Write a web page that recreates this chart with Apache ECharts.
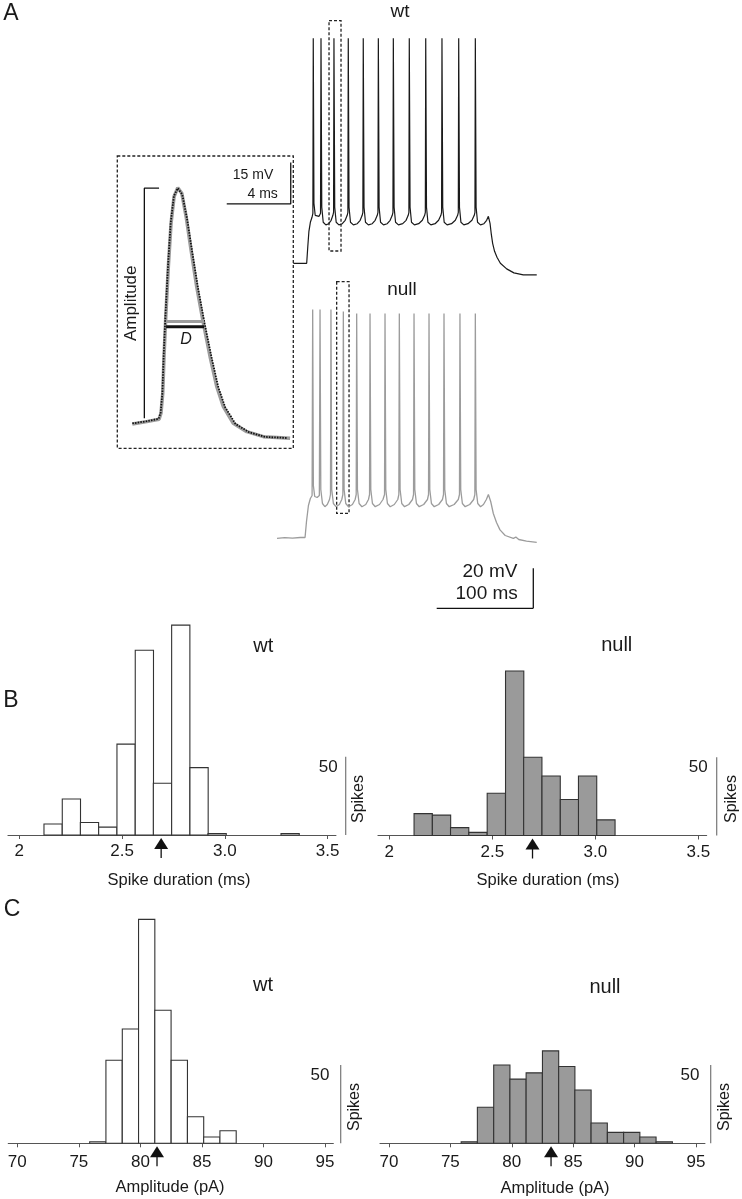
<!DOCTYPE html>
<html>
<head>
<meta charset="utf-8">
<script src="https://cdn.jsdelivr.net/npm/echarts@6/dist/echarts.min.js"></script>
<style>html,body{margin:0;padding:0;background:#fff}#c{width:742px;height:1199px}</style>
</head>
<body>
<div id="c"></div>
<script>
// ---------- DATA ----------
// Panel A: voltage traces, [time ms, membrane potential mV]
const wtTrace = [
[16.9,-70],[30.7,-70],[31.8,-62],[33,-54],[34.5,-49.5],[36.2,-47],[37.1,-45],
[37.5,42.5],[38.2,-40],[39.5,-46],[41.5,-47],[43.5,-46.5],[45,-45],
[45.5,42.5],[46.3,-42],[47.8,-49.5],[50.5,-50.8],[53.5,-50.2],[56,-48.5],[57.8,-46],[58.5,-44.5],
[58.9,42.5],[59.7,-42],[61.2,-49.5],[64,-50.8],[67.5,-50.2],[70.5,-48.5],[72.6,-46],[73.3,-44.5],
[73.7,42.5],[74.5,-42],[76,-49.5],[79,-50.8],[83,-50.2],[86,-48.5],[88.1,-46],[88.8,-44.5],
[89.2,42.5],[90,-42],[91.5,-49.5],[94.5,-50.8],[98.5,-50.2],[101.5,-48.5],[103.7,-46],[104.4,-44.5],
[104.8,42.5],[105.6,-42],[107.1,-49.5],[110.1,-50.8],[114,-50.2],[117,-48.5],[119.2,-46],[119.9,-44.5],
[120.3,42.5],[121.1,-42],[122.6,-49.5],[125.6,-50.8],[130,-50.2],[133.5,-48.5],[135.7,-46],[136.4,-44.5],
[136.8,42.5],[137.6,-42],[139.1,-49.5],[142.1,-50.8],[146.5,-50.2],[150.3,-48.5],[152.7,-46],[153.4,-44.5],
[153.8,42.5],[154.6,-42],[156.1,-49.5],[159.1,-50.8],[163.5,-50.2],[167.1,-48.5],[169.5,-46],[170.2,-44.5],
[170.6,42.5],[171.4,-42],[172.9,-49.5],[175.9,-50.8],[180.5,-50.2],[184.4,-48.5],[186.8,-46],[187.5,-44.5],
[187.9,42.5],[188.7,-42],[190.2,-49.5],[193.2,-50.8],[197.5,-50.2],[201.6,-48.5],[204,-46],[204.7,-44.5],
[205.1,42.5],[205.9,-42],[207.4,-49.5],[210.4,-50.8],[214,-50.2],[216.8,-48.5],[218.6,-46.5],[219.3,-45.5],
[220.3,-50],[221.5,-55],[223,-60],[225,-64],[227.5,-67],[231,-70],[237.5,-72.8],[245,-74.8],[254.7,-75.8],[268.6,-75.8]
];
const nullTrace = [
[0,-70.4],[8,-70.1],[16,-70.3],[24,-70],[29,-70],[30.5,-62],[32.5,-54],[34.5,-50.5],[36.3,-49],
[36.9,44],[37.6,-44],[39,-49.5],[41.5,-50],[43.8,-49],
[44.5,44],[45.3,-46],[47,-53],[49.5,-54.6],[52,-53.5],[54.3,-51],[55.3,-48.5],
[55.8,44],[56.6,-46],[58.3,-53],[61,-54.6],[64.5,-53.5],[67,-51],[68.1,-48.5],
[68.6,43],[69.4,-46],[71.1,-53],[74,-54.6],[78,-53.5],[80.8,-51],[81.9,-48.5],
[82.4,42],[83.2,-46],[84.9,-53],[87.8,-54.6],[91.8,-53.5],[94.6,-51],[95.7,-48.5],
[96.2,42],[97,-46],[98.7,-53],[101.6,-54.6],[106,-53.5],[109.6,-51],[111.2,-48.5],
[111.7,42],[112.5,-46],[114.2,-53],[117.1,-54.6],[121.3,-53.5],[124.9,-51],[126,-48.5],
[126.5,42],[127.3,-46],[129,-53],[131.9,-54.6],[136.3,-53.5],[140.1,-51],[141.2,-48.5],
[141.7,42],[142.5,-46],[144.2,-53],[147.1,-54.6],[151.7,-53.5],[155.6,-51],[156.7,-48.5],
[157.2,42],[158,-46],[159.7,-53],[162.6,-54.6],[167.2,-53.5],[171.1,-51],[172.2,-48.5],
[172.7,42],[173.5,-46],[175.2,-53],[178.1,-54.6],[183.2,-53.5],[187.5,-51],[188.7,-48.5],
[189.2,42],[190,-46],[191.7,-53],[194.6,-54.6],[199.3,-53.5],[203.4,-51],[204.6,-48.5],
[205.1,42],[205.9,-46],[207.6,-53],[210.5,-54.6],[213.5,-53.5],[216.5,-51],[218.6,-48.5],[219.5,-47.9],
[221,-52],[223.7,-58],[227,-62.5],[230.6,-66.2],[236,-69],[244.4,-70.4],[247,-69.8],[250,-71],[258,-71.8],[268.6,-72.4]
];
// dashed selection boxes [t0, t1, vTop, vBottom]
const wtBox = [53.8, 66.2, 51.3, -63.85];
const nullBox = [61.7, 74.5, 57.9, -57.9];

// Inset: single spike, [time ms, mV above baseline]
const insetNull = [[0,0],[0.9,0.85],[1.67,1.7],[1.79,3.9],[1.9,11.1],[1.98,24.4],[2.09,39],[2.25,57.1],[2.42,72.9],[2.61,82.6],[2.84,85.8],[3.09,83.8],[3.36,75.3],[3.67,63.2],[4.02,49.9],[4.44,36.6],[4.86,24.4],[5.28,13.5],[5.69,6.3],[6.31,0.25],[7.15,-2.8],[8.19,-4.6],[9.86,-5.2]];
const insetWt = [[0,0.2],[0.9,1],[1.65,1.9],[1.77,4.2],[1.88,11.5],[1.96,25],[2.07,39.5],[2.23,57.5],[2.4,73.2],[2.6,82.8],[2.84,85.6],[3.12,83.3],[3.42,74.5],[3.74,62.5],[4.1,49.5],[4.52,36.4],[4.95,24.2],[5.37,13.4],[5.8,6.1],[6.45,0],[7.3,-3],[8.3,-4.7],[9.7,-5.1]];
const insetDNull = [[2.11,37.2],[4.48,37.2]];
const insetDWt = [[2.11,35.3],[4.48,35.3]];
const ampBracket = [[1.67,85.6],[0.75,85.6],[0.75,2.07]];
const insetScale = [[5.9,79.9],[9.9,79.9],[9.9,94.9]];

// Panel B: spike duration histograms
const durBinLeft = [2.120, 2.209, 2.297, 2.386, 2.475, 2.564, 2.652, 2.741, 2.830, 2.918, 3.007, 3.096, 3.185, 3.273];
const durBinWidth = 0.0887;
const wtDurCounts   = [7, 23, 8, 5, 58, 118, 33, 134, 43, 1, 0, 0, 0, 1];
const nullDurCounts = [14, 13, 5, 2, 27, 105, 50, 38, 23, 38, 10, 0, 0, 0];
const durTicks = [2, 2.5, 3, 3.5];
const durTickLabels = ['2', '2.5', '3.0', '3.5'];
const wtDurMean = 2.69, nullDurMean = 2.695;

// Panel C: amplitude histograms
const ampBinLeft = [75.88, 77.20, 78.53, 79.85, 81.17, 82.50, 83.82, 85.14, 86.46, 87.79, 89.11, 90.43, 91.76];
const ampBinWidth = 1.323;
const wtAmpCounts   = [1, 53, 73, 143, 85, 53, 17, 4, 8, 0, 0, 0, 0];
const nullAmpCounts = [1, 23, 50, 41, 45, 59, 49, 34, 13, 7, 7, 4, 1];
const ampTicks = [70, 75, 80, 85, 90, 95];
const wtAmpMean = 81.35, nullAmpMean = 83.2;

// ---------- CHART ----------
const FONT = 'Liberation Sans, Arial, sans-serif';
const chart = echarts.init(document.getElementById('c'), null, {renderer: 'canvas'});

function bins(left, w, counts){
  return left.map((x0, i) => [x0, x0 + w, counts[i]]).filter(d => d[2] > 0);
}
function histSeries(idx, data, fill){
  return {type:'custom', xAxisIndex:idx, yAxisIndex:idx, data, encode:{x:[0,1], y:2}, clip:false, silent:true, z:3,
    renderItem(params, api){
      const a = api.coord([api.value(0), api.value(2)]);
      const b = api.coord([api.value(1), 0]);
      return {type:'rect', shape:{x:a[0], y:a[1], width:b[0]-a[0], height:b[1]-a[1]},
        style:{fill, stroke:'#333', lineWidth:1.1}};
    }};
}
function arrowSeries(idx, mean){
  return {type:'custom', xAxisIndex:idx, yAxisIndex:idx, data:[[mean, 0]], encode:{x:0, y:1}, clip:false, silent:true, z:4,
    renderItem(params, api){
      const p = api.coord([api.value(0), 0]);
      return {type:'group', children:[
        {type:'polygon', shape:{points:[[p[0], p[1]+3],[p[0]-7, p[1]+14],[p[0]+7, p[1]+14]]}, style:{fill:'#111'}},
        {type:'line', shape:{x1:p[0], y1:p[1]+13, x2:p[0], y2:p[1]+23}, style:{stroke:'#111', lineWidth:1.3}}
      ]};
    }};
}
function histX(idx, min, max, ticks, fmt, margin, fs){
  return {gridIndex:idx, type:'value', min, max,
    axisLine:{show:true, onZero:false, lineStyle:{color:'#555', width:1.2}},
    axisTick:{show:true, customValues:ticks, length:4, lineStyle:{color:'#555', width:1}},
    axisLabel:{show:true, customValues:ticks, formatter:fmt, fontSize:fs, color:'#1a1a1a', margin, fontFamily:FONT},
    splitLine:{show:false}};
}
function hiddenAxis(idx, min, max){
  return {gridIndex:idx, type:'value', min, max, show:false, splitLine:{show:false}};
}
function line(idx, data, color, width, type){
  return {type:'line', xAxisIndex:idx, yAxisIndex:idx, data, showSymbol:false, symbol:'none', silent:true,
    lineStyle:{color, width, type: type || 'solid'}, animation:false, z:2};
}
const durFmt = v => durTickLabels[durTicks.indexOf(v)] ?? String(v);
const ampFmt = v => String(v);

const HH = 150 * 1.566; // histogram grid height (0..150 spikes)

const option = {
  animation:false,
  backgroundColor:'#fff',
  grid:[
    {left:277, top:13.3, width:270.76, height:270, outerBoundsMode:'none'},      // 0 wt trace
    {left:277, top:277.5, width:270.76, height:280, outerBoundsMode:'none'},     // 1 null trace
    {left:117.3, top:156, width:176, height:292.3, outerBoundsMode:'none'},      // 2 inset
    {left:8, top:835-HH, width:327.9, height:HH, outerBoundsMode:'none'},        // 3 B wt
    {left:378, top:835.5-HH, width:328.6, height:HH, outerBoundsMode:'none'},    // 4 B null
    {left:8.3, top:1143.3-HH, width:325, height:HH, outerBoundsMode:'none'},     // 5 C wt
    {left:380, top:1143.3-HH, width:324.9, height:HH, outerBoundsMode:'none'}    // 6 C null
  ],
  xAxis:[
    hiddenAxis(0, 0, 280),
    hiddenAxis(1, 0, 280),
    hiddenAxis(2, -0.94, 10.06),
    histX(3, 1.945, 3.54, durTicks, durFmt, 8, 17),
    histX(4, 1.945, 3.54, durTicks, durFmt, 8, 17),
    histX(5, 69.27, 95.67, ampTicks, ampFmt, 11, 17),
    histX(6, 69.27, 95.73, ampTicks, ampFmt, 11, 17)
  ],
  yAxis:[
    hiddenAxis(0, -80, 55),
    hiddenAxis(1, -80, 60),
    hiddenAxis(2, -8.83, 97.3),
    hiddenAxis(3, 0, 150),
    hiddenAxis(4, 0, 150),
    hiddenAxis(5, 0, 150),
    hiddenAxis(6, 0, 150)
  ],
  series:[
    Object.assign(line(0, wtTrace, '#1a1a1a', 1.2), {
      markArea:{silent:true, itemStyle:{color:'rgba(0,0,0,0)', borderColor:'#222', borderWidth:1.3, borderType:[3,2]},
        data:[[{coord:[wtBox[0], wtBox[2]]},{coord:[wtBox[1], wtBox[3]]}]]}
    }),
    Object.assign(line(1, nullTrace, '#9c9c9c', 1.3), {
      markArea:{silent:true, itemStyle:{color:'rgba(0,0,0,0)', borderColor:'#222', borderWidth:1.3, borderType:[3,2]},
        data:[[{coord:[nullBox[0], nullBox[2]]},{coord:[nullBox[1], nullBox[3]]}]]}
    }),
    line(2, insetNull, '#9c9c9c', 3.5),
    line(2, insetWt, '#111', 1.8, [1.5,1.2]),
    line(2, insetDNull, '#9c9c9c', 3),
    line(2, insetDWt, '#111', 3),
    line(2, ampBracket, '#111', 1.3),
    line(2, insetScale, '#111', 1.3),
    histSeries(3, bins(durBinLeft, durBinWidth, wtDurCounts), '#ffffff'),
    histSeries(4, bins(durBinLeft, durBinWidth, nullDurCounts), '#9a9a9a'),
    histSeries(5, bins(ampBinLeft, ampBinWidth, wtAmpCounts), '#ffffff'),
    histSeries(6, bins(ampBinLeft, ampBinWidth, nullAmpCounts), '#9a9a9a'),
    arrowSeries(3, wtDurMean),
    arrowSeries(4, nullDurMean),
    arrowSeries(5, wtAmpMean),
    arrowSeries(6, nullAmpMean)
  ]
};

function txt(x, y, text, size, opts){
  opts = opts || {};
  return {type:'text', x, y, rotation:opts.rot || 0, silent:true, z:10,
    style:{text, fontSize:size, fontFamily:FONT, fontStyle:opts.italic ? 'italic' : 'normal',
      fill:opts.color || '#1a1a1a', align:opts.align || 'center', verticalAlign:'middle'}};
}
function seg(x1, y1, x2, y2, color, w, dash){
  return {type:'line', silent:true, z:10, shape:{x1, y1, x2, y2},
    style:{stroke:color || '#111', lineWidth:w || 1.3, lineDash:dash || null}};
}
option.graphic = [
  // panel letters
  txt(11, 14, 'A', 23), txt(11, 701, 'B', 23), txt(12, 910, 'C', 23),
  // panel A labels
  txt(400, 12, 'wt', 19), txt(402, 290, 'null', 19),
  // inset dashed frame
  {type:'rect', silent:true, z:9, shape:{x:117.3, y:156, width:176, height:292.3},
    style:{fill:'none', stroke:'#222', lineWidth:1.3, lineDash:[3,2]}},
  txt(253, 175, '15 mV', 14), txt(262.7, 194, '4 ms', 14),
  txt(131.7, 303.3, 'Amplitude', 17, {rot:Math.PI/2}),
  txt(186, 340, 'D', 16, {italic:true}),
  // main scale bar
  seg(533.3, 568.3, 533.3, 608.3), seg(436.7, 608.3, 533.3, 608.3),
  txt(490, 572, '20 mV', 19), txt(486.7, 593.5, '100 ms', 19),
  // histogram labels
  txt(263.3, 646, 'wt', 20), txt(616.7, 645, 'null', 20),
  txt(263, 985, 'wt', 20), txt(605, 987, 'null', 20),
  // spike scale bars
  seg(345.7, 835 - 50*1.566, 345.7, 835, '#777', 1.2), txt(328.3, 767, '50', 17), txt(358.3, 799, 'Spikes', 16, {rot:Math.PI/2}),
  seg(716.7, 835.5 - 50*1.566, 716.7, 835.5, '#777', 1.2), txt(698.3, 767, '50', 17), txt(731.7, 799, 'Spikes', 16, {rot:Math.PI/2}),
  seg(340.7, 1143.3 - 50*1.566, 340.7, 1143.3, '#777', 1.2), txt(320, 1075, '50', 17), txt(355, 1107, 'Spikes', 16, {rot:Math.PI/2}),
  seg(710.7, 1143.3 - 50*1.566, 710.7, 1143.3, '#777', 1.2), txt(690, 1075, '50', 17), txt(725, 1107, 'Spikes', 16, {rot:Math.PI/2}),
  // axis titles
  txt(179, 880, 'Spike duration (ms)', 16.5), txt(548, 880, 'Spike duration (ms)', 16.5),
  txt(170, 1187, 'Amplitude (pA)', 16.5), txt(555, 1188, 'Amplitude (pA)', 16.5)
];

chart.setOption(option);
</script>
</body>
</html>
